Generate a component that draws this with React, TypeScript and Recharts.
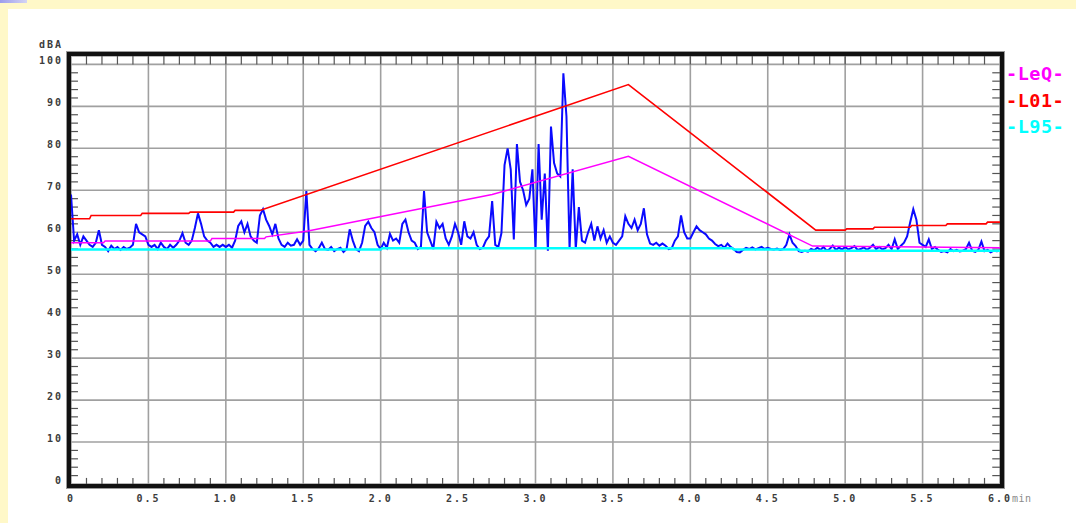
import { LineChart, Line, XAxis, YAxis, CartesianGrid, ReferenceLine } from 'recharts'

// measured level, one sample every 0.02 min (rows = half minutes)
const levelSamples = [
  69, 58, 59.5, 57, 59, 58, 57, 56.5, 57.5, 60.5, 57, 56.5, 55.5, 56.8, 56, 56.5, 55.8, 56.5, 56, 56.3, 57, 62, 60, 59.5, 59,
  57, 56.5, 57, 56, 57.5, 56.5, 56, 57, 56.3, 57, 58, 59.8, 57.5, 57, 58, 61, 64.5, 62, 59, 58, 57.5, 56.5, 57, 56.5, 57,
  56.5, 57, 56.3, 58, 61.5, 62.6, 60, 62, 59, 58, 57.5, 64, 65.5, 63, 61.5, 59.5, 62, 58.5, 57, 56.5, 57.5, 56.8, 57, 58.3, 57,
  58, 69.8, 57, 56, 55.5, 56.2, 57.5, 56, 55.8, 56.5, 55.5, 56, 56.3, 55.3, 56, 60.7, 58, 56, 55.5, 57.5, 61.5, 62.5, 61, 60, 57,
  56, 57.5, 56.3, 59.6, 58, 58.5, 57.5, 62, 63, 60, 58, 57.5, 56, 56.5, 69.8, 60, 58, 56, 62.5, 61, 62, 58.5, 57, 59, 62,
  60, 57, 62.6, 59, 58.5, 60, 57, 56, 56.3, 58, 59, 67.4, 57, 56.5, 59.8, 76, 80, 75, 58.3, 81, 72, 70, 66.5, 68, 75,
  56, 81, 63, 74, 55.6, 85.2, 76.5, 74, 73.3, 97.9, 87.6, 56, 75, 56, 66, 58, 57.5, 60, 62, 58, 61.4, 58.5, 60.5, 57.5, 59,
  57.5, 57, 58, 59, 63.8, 62, 61, 63, 60.5, 62, 65.7, 59.5, 57.3, 57, 57.5, 56.8, 57.3, 56.8, 56, 56.2, 58, 59, 64, 60, 58.5,
  58.5, 60, 61.4, 60.5, 60, 59.5, 58.5, 58, 57.2, 56.7, 57, 56.3, 57.3, 56.5, 56, 55.3, 55.2, 55.8, 56.3, 56, 56.4, 55.9, 56.2, 56.5, 56,
  56.3, 56, 55.9, 56.1, 55.8, 56, 57, 59.5, 57.5, 56.7, 55.5, 55.3, 55.6, 55.4, 56, 55.7, 56.3, 55.8, 56.5, 55.6, 56, 56.8, 55.8, 56.3, 55.9,
  56.5, 55.9, 56.2, 56.7, 55.8, 56, 56.4, 55.8, 56.3, 57, 56, 56.5, 55.9, 56.2, 57, 56, 58.3, 56, 56.8, 57.5, 59, 62.4, 65.5, 63, 57.5,
  57, 56.5, 58.3, 56, 56.5, 55.8, 55.3, 55.5, 55.2, 56, 55.5, 55.8, 55.4, 55.6, 56, 57.5, 55.6, 55.3, 55.8, 57.8, 55.5, 55.8, 55.2, 55.6, 55.5, 55.6,
]

// [min, dB] break points
const leqPoints = [
  [0, 57.5], [0.21, 57.5], [0.22, 57.9], [0.9, 57.9], [0.91, 58.5], [1.25, 58.5], [1.26, 58.9],
  [1.53, 60.3], [2.72, 69.0], [3.6, 78.1], [4.79, 56.7], [6, 56.3],
]
const l01Points = [
  [0, 63.2], [0.12, 63.2], [0.13, 64.0], [0.45, 64.0], [0.46, 64.5], [0.76, 64.5], [0.77, 64.8],
  [1.05, 64.8], [1.06, 65.2], [1.22, 65.2], [3.6, 95.2], [4.81, 60.5], [5.0, 60.5], [5.01, 60.8],
  [5.18, 60.8], [5.19, 61.2], [5.42, 61.2], [5.43, 61.6], [5.65, 61.6], [5.66, 62.0], [5.91, 62.0],
  [5.92, 62.4], [6, 62.4],
]
const l95Points = [
  [0, 55.9], [2.0, 55.9], [2.01, 56.2], [4.27, 56.2], [4.28, 55.9], [4.7, 55.9], [4.71, 55.6], [6, 55.6],
]

const xTicks = [0, 0.5, 1, 1.5, 2, 2.5, 3, 3.5, 4, 4.5, 5, 5.5, 6]
const yTicks = [0, 10, 20, 30, 40, 50, 60, 70, 80, 90, 100]
const minorTimes = Array.from({ length: 59 }, (_, i) => (i + 1) / 10)
const minorLevels = Array.from({ length: 49 }, (_, i) => (i + 1) * 2).filter(v => v % 10 !== 0)

const legendItems = [
  { name: '-LeQ-', color: '#ff00ff' },
  { name: '-L01-', color: '#ff0000' },
  { name: '-L95-', color: '#00ffff' },
]

const toRows = (pts: number[][]) => pts.map(([t, v]) => ({ t, v }))
const levelData = levelSamples.map((v, i) => ({ t: +(i * 0.02).toFixed(2), v }))

const FONT = '"DejaVu Sans Mono", monospace'
const LABEL = { fontFamily: FONT, fontSize: 10, fontWeight: 700, letterSpacing: 2, fill: '#3c3c3c' }
const TICK = '#555'

const XTick = ({ x, y, payload }: any) => {
  const v = payload.value
  const label = v === 0 ? '0' : v.toFixed(1)
  if (v === 6) {
    return (
      <text x={x - 12} y={y + 10} {...LABEL}>
        {label}
        <tspan fill="#8a8a8a" fontWeight={400} letterSpacing={0.5}>min</tspan>
      </text>
    )
  }
  return <text x={x} y={y + 10} textAnchor="middle" {...LABEL}>{label}</text>
}

const YTick = ({ x, y, payload }: any) => (
  <text x={x} y={y - 4} dy="0.35em" textAnchor="end" {...LABEL}>{payload.value}</text>
)

export default function App() {
  return (
    <div style={{ position: 'fixed', left: 0, top: 0, width: 1076, height: 523, background: '#fff8c8', overflow: 'hidden' }}>
      <div style={{ position: 'absolute', left: 0, top: 0, width: 27, height: 3, background: 'linear-gradient(90deg,#9c9cec,#d4d4f4)' }} />
      <div style={{ position: 'absolute', left: 8, top: 9, right: 0, bottom: 0, background: '#fff' }} />

      <div style={{ position: 'absolute', left: 0, top: 0 }}>
        <LineChart width={1076} height={523} margin={{ top: 56, right: 76, bottom: 9, left: 10 }}>
          <CartesianGrid stroke="#a0a0a0" strokeWidth={1.6} />
          <XAxis
            type="number"
            dataKey="t"
            domain={[0, 6]}
            ticks={xTicks}
            allowDataOverflow
            height={30}
            axisLine={false}
            tickLine={false}
            tick={<XTick />}
          />
          <YAxis
            type="number"
            domain={[0, 102]}
            ticks={yTicks}
            allowDataOverflow
            width={61}
            axisLine={false}
            tickLine={false}
            tick={<YTick />}
          />

          {minorTimes.filter(t => Math.round(t * 10) % 5 !== 0).map(t => (
            <ReferenceLine key={`b${t}`} segment={[{ x: t, y: 0 }, { x: t, y: 1.45 }]} stroke={TICK} strokeWidth={1.2} />
          ))}
          {minorTimes.map(t => (
            <ReferenceLine key={`t${t}`} segment={[{ x: t, y: 100 }, { x: t, y: 102 }]} stroke={TICK} strokeWidth={1.2} />
          ))}
          {minorLevels.map(v => (
            <ReferenceLine key={`l${v}`} segment={[{ x: 0, y: v }, { x: 0.045, y: v }]} stroke={TICK} strokeWidth={1.2} />
          ))}
          {minorLevels.map(v => (
            <ReferenceLine key={`r${v}`} segment={[{ x: 5.95, y: v }, { x: 6, y: v }]} stroke={TICK} strokeWidth={1.2} />
          ))}

          <Line data={levelData} dataKey="v" type="linear" stroke="#0a0aff" strokeWidth={2} dot={false} isAnimationActive={false} />
          <Line data={toRows(l95Points)} dataKey="v" type="linear" stroke="#00ffff" strokeWidth={2.5} dot={false} isAnimationActive={false} />
          <Line data={toRows(leqPoints)} dataKey="v" type="linear" stroke="#ff00ff" strokeWidth={1.5} dot={false} isAnimationActive={false} />
          <Line data={toRows(l01Points)} dataKey="v" type="linear" stroke="#ff0000" strokeWidth={1.6} dot={false} isAnimationActive={false} />
        </LineChart>
      </div>

      {/* frame */}
      <div
        style={{
          position: 'absolute', left: 67, top: 52, width: 937, height: 436, boxSizing: 'border-box',
          border: '4px solid #111', boxShadow: '0 0 0 1px #9a9a9a', pointerEvents: 'none',
        }}
      />

      <svg width={1076} height={523} style={{ position: 'absolute', left: 0, top: 0, pointerEvents: 'none' }}>
        <text x={63} y={48} textAnchor="end" {...LABEL}>dBA</text>
        {legendItems.map((item, i) => (
          <text
            key={item.name}
            x={1006}
            y={80 + i * 26.5}
            fontFamily={FONT}
            fontSize={18.5}
            fontWeight={700}
            letterSpacing={0.5}
            fill={item.color}
          >
            {item.name}
          </text>
        ))}
      </svg>
    </div>
  )
}
